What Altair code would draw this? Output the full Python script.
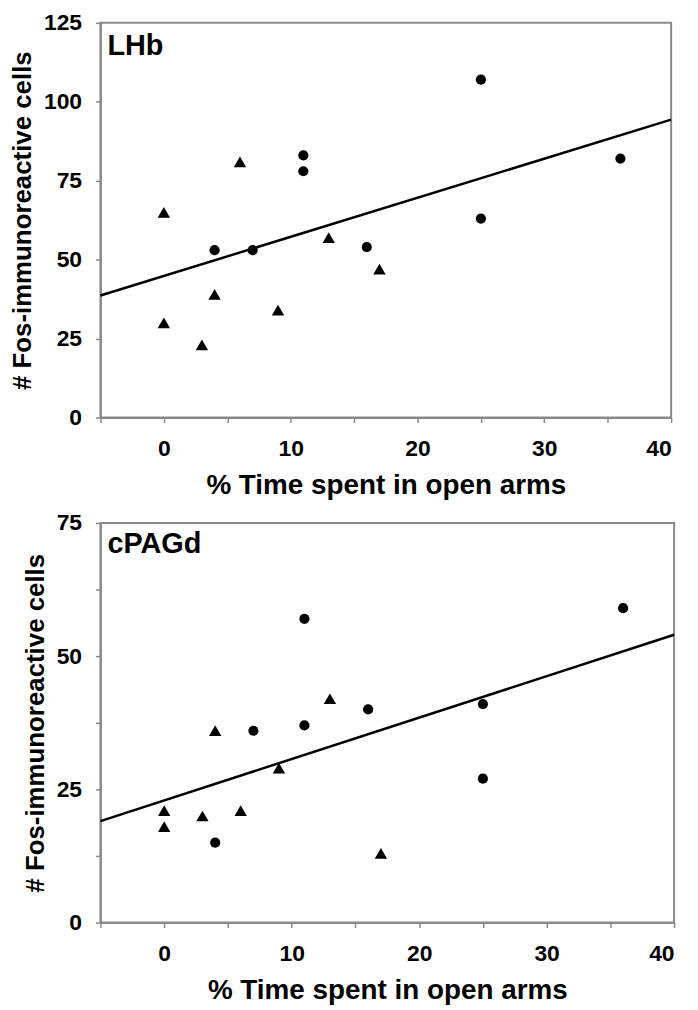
import altair as alt
import pandas as pd

# Data
x_pct = [25, 36, 11, 11, 25, 4, 7, 16, 6, 0, 13, 17, 4, 9, 0, 3]
marker = ["circle"] * 8 + ["triangle"] * 8
lhb = [107, 82, 83, 78, 63, 53, 53, 54, 81, 65, 57, 47, 39, 34, 30, 23]
cpagd = [41, 59, 57, 37, 27, 15, 36, 40, 21, 21, 42, 13, 36, 29, 18, 20]

panel_names = ["LHb", "cPAGd"]
y_max = [125, 75]
x_title = "% Time spent in open arms"
y_title = "# Fos-immunoreactive cells"

FONT = "Liberation Sans, Arial, sans-serif"
GRAY = "#8a8a8a"


def panel(name, values, ymax, width, height, label_y):
    df = pd.DataFrame({"x": x_pct, "y": values, "g": marker, "name": name})
    yvals = [i * 12.5 for i in range(int(ymax / 12.5) + 1)]
    xs = alt.Scale(domain=[-5, 40], nice=False, zero=False)
    ys = alt.Scale(domain=[0, ymax], nice=False)
    xax = alt.Axis(
        values=list(range(-5, 45, 5)),
        labelExpr="datum.value % 10 == 0 ? datum.label : ''",
        title=x_title,
        grid=False,
    )
    yax = alt.Axis(
        values=yvals,
        labelExpr="datum.value % 25 == 0 ? datum.label : ''",
        title=y_title,
        grid=False,
    )
    base = alt.Chart(df)
    pts = base.mark_point(filled=True, opacity=1, color="black").encode(
        x=alt.X("x:Q", scale=xs, axis=xax),
        y=alt.Y("y:Q", scale=ys, axis=yax),
        shape=alt.Shape(
            "g:N",
            scale=alt.Scale(domain=["circle", "triangle"], range=["circle", "triangle-up"]),
            legend=None,
        ),
        size=alt.Size(
            "g:N",
            scale=alt.Scale(domain=["circle", "triangle"], range=[105, 155]),
            legend=None,
        ),
    )
    line = base.transform_regression("x", "y", extent=[-5, 40]).mark_line(
        color="black", strokeWidth=2.5
    ).encode(x=alt.X("x:Q", scale=xs), y=alt.Y("y:Q", scale=ys))
    label = base.transform_filter(alt.datum.x == x_pct[0]).transform_window(
        rn="row_number()"
    ).transform_filter(alt.datum.rn == 1).mark_text(
        align="left", baseline="top", font=FONT, fontWeight="bold", fontSize=29, color="black"
    ).encode(x=alt.value(7), y=alt.value(label_y), text="name:N")
    return alt.layer(line, pts, label).properties(width=width, height=height)


top = panel(panel_names[0], lhb, y_max[0], 574, 397, 9)
bottom = panel(panel_names[1], cpagd, y_max[1], 577, 402, 7)

chart = (
    alt.vconcat(top, bottom, spacing=11)
    .properties(padding={"left": 0, "top": 0, "right": 10, "bottom": 0})
    .configure_view(stroke=GRAY, strokeWidth=2)
    .configure_axis(
        labelFont=FONT,
        titleFont=FONT,
        labelFontSize=23,
        titleFontSize=28,
        labelFontWeight="bold",
        titleFontWeight="bold",
        labelColor="black",
        titleColor="black",
        domainColor=GRAY,
        domainWidth=2,
        tickColor=GRAY,
        tickWidth=1.5,
        tickSize=5,
    )
    .configure_axisX(titlePadding=11, labelPadding=15)
    .configure_axisY(titlePadding=8, labelPadding=14, titleFontSize=26)
)

chart.save("out.html", embed_options={"renderer": "svg", "actions": False})
